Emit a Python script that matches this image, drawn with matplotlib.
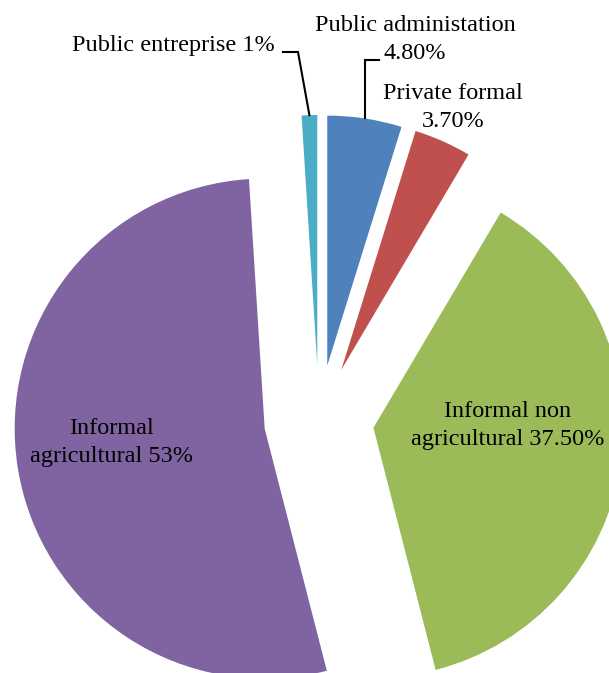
import numpy as np
import matplotlib.pyplot as plt

plt.rcParams['font.family'] = ['Liberation Serif', 'DejaVu Serif']

# data (clockwise from 12 o'clock)
sectors = ['Public administation', 'Private formal', 'Informal non agricultural',
           'Informal agricultural', 'Public entreprise']
shares = [4.8, 3.7, 37.5, 53.0, 1.0]
share_text = ['4.80%', '3.70%', '37.50%', '53%', '1%']
colors = ['#4F81BD', '#C0504D', '#9BBB59', '#8064A2', '#4BACC6']

fig = plt.figure(figsize=(6.09, 6.73), dpi=100)
ax = fig.add_axes([0, 0, 1, 1])

wedges, _ = ax.pie(shares, colors=colors, startangle=90, counterclock=False,
                   explode=[0.22] * len(shares), radius=1.0, center=(0, 0),
                   frame=True)
ax.set_xlim(-1.276, 1.16)
ax.set_ylim(-1.012, 1.68)
ax.axis('off')

fs = 17.5
ls = 1.45

# label text and placement (baseline of the last line)
labels = [
    ('Public administation\n4.80%', 0.384, 1.444),
    ('Private formal\n3.70%', 0.536, 1.172),
    ('Informal non\nagricultural 37.50%', 0.756, -0.1),
    ('Informal\nagricultural 53%', -0.828, -0.168),
    ('Public entreprise 1%', -0.584, 1.476),
]
for txt, x, y in labels:
    ax.text(x, y, txt, ha='center', va='baseline', fontsize=fs,
            linespacing=ls, multialignment='center')


def arc_mid(w):
    mid = np.deg2rad((w.theta1 + w.theta2) / 2)
    cx, cy = w.center
    return cx + w.r * np.cos(mid), cy + w.r * np.sin(mid)


# leader lines for the two small slices
for w, (x0, y0), xe in [(wedges[4], (-0.144, 1.472), -0.084),
                        (wedges[0], (0.24, 1.44), None)]:
    px, py = arc_mid(w)
    ex = xe if xe is not None else px
    ax.plot([x0, ex, px], [y0, y0, py], color='black', lw=1.5,
            solid_joinstyle='miter')

fig.savefig('out.png', dpi=100)
